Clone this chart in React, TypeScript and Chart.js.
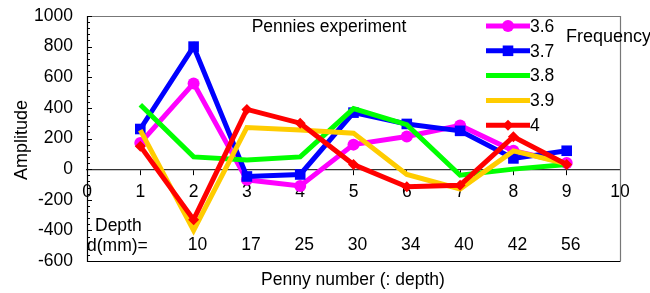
import React, { useEffect, useRef } from "react";
import { Chart, registerables } from "chart.js";

Chart.register(...registerables);

const pennyNumbers = [1, 2, 3, 4, 5, 6, 7, 8, 9];
const depthLabels = ["10", "17", "25", "30", "34", "40", "42", "56"];
const depthPennies = [2, 3, 4, 5, 6, 7, 8, 9];
const seriesNames = ["3.6", "3.7", "3.8", "3.9", "4"];
const s36 = [170, 560, -70, -110, 160, 213, 285, 120, 40];
const s37 = [262, 800, -48, -35, 369, 295, 250, 70, 120];
const s38 = [420, 80, 60, 80, 395, 290, -40, 0, 30];
const s39 = [255, -400, 272, 256, 235, -35, -130, 119, 35];
const s40 = [150, -330, 390, 300, 30, -115, -105, 212, 30];
const yTicks = [-600, -400, -200, 0, 200, 400, 600, 800, 1000];
const xTicks = [0, 1, 2, 3, 4, 5, 6, 7, 8, 9, 10];
const titleText = "Pennies experiment";
const legendTitle = "Frequency";
const xTitle = "Penny number (: depth)";
const yTitle = "Amplitude";
const depthTitle1 = "Depth";
const depthTitle2 = "d(mm)=";

const colors = ["#FF00FF", "#0000FF", "#00FF00", "#FFCC00", "#FF0000"];
const pointStyles = ["circle", "rect", false, false, "rectRot"];
const pointRadii = [6, 7.5, 0, 0, 5.5];
const FONT = "'Liberation Sans', Arial, sans-serif";

function drawMarker(ctx: CanvasRenderingContext2D, style: any, r: number, x: number, y: number) {
  ctx.beginPath();
  if (style === "circle") {
    ctx.arc(x, y, r, 0, Math.PI * 2);
  } else if (style === "rect") {
    const h = r * Math.SQRT1_2;
    ctx.rect(x - h, y - h, 2 * h, 2 * h);
  } else if (style === "rectRot") {
    ctx.moveTo(x - r, y);
    ctx.lineTo(x, y - r);
    ctx.lineTo(x + r, y);
    ctx.lineTo(x, y + r);
    ctx.closePath();
  } else {
    return;
  }
  ctx.fill();
}

export default function App() {
  const ref = useRef<HTMLCanvasElement | null>(null);
  useEffect(() => {
    const canvas = ref.current;
    if (!canvas) return;
    const allSeries = [s36, s37, s38, s39, s40];
    const datasets = allSeries.map((vals, i) => ({
      label: seriesNames[i],
      data: pennyNumbers.map((x, j) => ({ x, y: vals[j] })),
      borderColor: colors[i],
      backgroundColor: colors[i],
      borderWidth: 5,
      pointStyle: pointStyles[i] as any,
      pointRadius: pointRadii[i],
      pointBorderWidth: 0,
      tension: 0,
      order: 4 - i,
      clip: false as any,
    }));

    const decor = {
      id: "decor",
      afterDatasetsDraw(chart: any) {
        const { ctx, chartArea: ca, scales } = chart;
        const xs = scales.x;
        const ys = scales.y;
        ctx.save();
        ctx.lineWidth = 1.2;
        ctx.strokeStyle = "#777";
        ctx.beginPath();
        ctx.moveTo(ca.left, ca.top + 0.5);
        ctx.lineTo(ca.right + 0.5, ca.top + 0.5);
        ctx.lineTo(ca.right + 0.5, ca.bottom);
        ctx.stroke();
        ctx.strokeStyle = "#000";
        ctx.beginPath();
        ctx.moveTo(ca.left + 0.5, ca.top);
        ctx.lineTo(ca.left + 0.5, ca.bottom + 0.5);
        ctx.lineTo(ca.right + 0.5, ca.bottom + 0.5);
        ctx.stroke();
        ctx.lineWidth = 1;
        for (let v = -600; v <= 1000; v += 40) {
          const py = Math.round(ys.getPixelForValue(v)) + 0.5;
          const len = v % 200 === 0 ? 5 : 3;
          ctx.beginPath();
          ctx.moveTo(ca.left, py);
          ctx.lineTo(ca.left + len, py);
          ctx.stroke();
        }
        ctx.fillStyle = "#000";
        ctx.font = `17.5px ${FONT}`;
        ctx.textBaseline = "middle";
        ctx.textAlign = "center";
        ctx.fillText(titleText, 329, 27);
        ctx.textAlign = "left";
        ctx.font = `18px ${FONT}`;
        ctx.fillText(legendTitle, 566, 37);
        ctx.font = `17.5px ${FONT}`;
        ctx.fillText(depthTitle1, 95, 226);
        ctx.fillText(depthTitle2, 87, 246);
        ctx.textAlign = "center";
        depthLabels.forEach((lab, i) => {
          ctx.fillText(lab, xs.getPixelForValue(depthPennies[i]) + 4, 245);
        });
        ctx.fillText(xTitle, 353, 280);
        ctx.save();
        ctx.font = `18px ${FONT}`;
        ctx.translate(22, 140);
        ctx.rotate(-Math.PI / 2);
        ctx.fillText(yTitle, 0, 0);
        ctx.restore();
        seriesNames.forEach((name, i) => {
          const cy = 26 + i * 24.8;
          ctx.strokeStyle = colors[i];
          ctx.fillStyle = colors[i];
          ctx.lineWidth = 5;
          ctx.beginPath();
          ctx.moveTo(486, cy);
          ctx.lineTo(530, cy);
          ctx.stroke();
          drawMarker(ctx, pointStyles[i], pointRadii[i], 508, cy);
          ctx.fillStyle = "#000";
          ctx.textAlign = "left";
          ctx.fillText(name, 530, cy + 1);
        });
        ctx.restore();
      },
    };

    const chart = new Chart(canvas, {
      type: "line",
      data: { datasets },
      options: {
        animation: false,
        responsive: false,
        maintainAspectRatio: false,
        layout: { padding: { top: 16, right: 30, bottom: 32, left: 0 } },
        plugins: { legend: { display: false }, tooltip: { enabled: false }, title: { display: false } },
        scales: {
          x: {
            type: "linear",
            min: 0,
            max: 10,
            position: { y: 0 } as any,
            afterBuildTicks: (s: any) => {
              s.ticks = xTicks.map((v) => ({ value: v }));
            },
            ticks: { color: "#000", font: { size: 17.5, family: FONT }, padding: 8, maxRotation: 0, autoSkip: false },
            grid: { drawOnChartArea: false, drawTicks: true, tickLength: 5, color: "#000" },
            border: { display: true, color: "#333", width: 1.2 },
          },
          y: {
            type: "linear",
            min: -600,
            max: 1000,
            afterBuildTicks: (s: any) => {
              s.ticks = yTicks.map((v) => ({ value: v }));
            },
            afterFit: (s: any) => {
              s.width = 87;
              s.paddingTop = 0;
              s.paddingBottom = 0;
            },
            ticks: {
              color: "#000",
              font: { size: 17.5, family: FONT },
              padding: 14,
              callback: (v: any) => String(v),
            },
            grid: { display: false, drawTicks: false },
            border: { display: false },
          },
        },
      },
      plugins: [decor],
    });
    return () => chart.destroy();
  }, []);
  return (
    <div style={{ position: "fixed", left: 0, top: 0, width: 650, height: 293, background: "#fff" }}>
      <canvas ref={ref} width={650} height={293} style={{ width: 650, height: 293, display: "block" }} />
    </div>
  );
}
